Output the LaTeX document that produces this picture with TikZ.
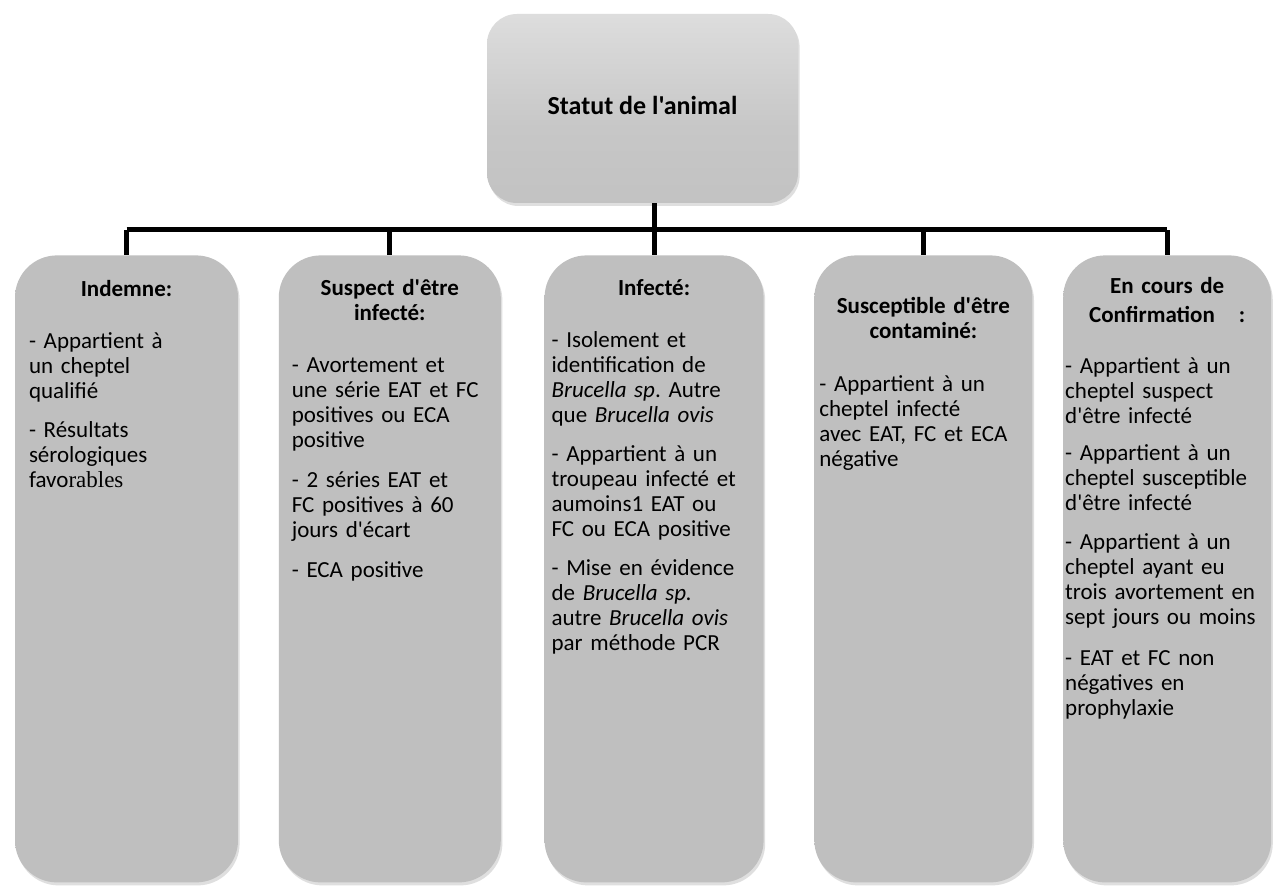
\documentclass[tikz,border=0pt]{standalone}
\usepackage{fontspec}
\setmainfont{Carlito}[Ligatures=TeXOff]
\newfontfamily\serifpart{Liberation Serif}
\usetikzlibrary{positioning,shadows}
\frenchspacing

\pgfdeclareverticalshading{colshade}{100bp}{color(0bp)=(gray!50); color(86bp)=(gray!50); color(100bp)=(gray!28)}
\pgfdeclareverticalshading{topshade}{100bp}{color(0bp)=(gray!52); color(45bp)=(gray!44); color(100bp)=(gray!12)}

\begin{document}
\begin{tikzpicture}[x=0.5pt,y=-0.5pt,
        link/.style={line width=2.5pt,black},
        col node/.style={anchor=north,rounded corners=21pt,minimum height=313.5pt,
            shade,shading=colshade,
            drop shadow={opacity=0.25,shadow xshift=0.8pt,shadow yshift=-1.5pt}},
        txt node/.style={anchor=north west,inner sep=0pt,align=left,
            font=\fontsize{11.5}{12.5}\selectfont,
            execute at begin node={\parindent=0pt}}]

        \path[use as bounding box,fill=white] (0,0) rectangle (1275,892);

        % Top of the tree
        \node[rounded corners=15pt,minimum width=155.5pt,minimum height=94.5pt,
              shade,shading=topshade,
              drop shadow={opacity=0.25,shadow xshift=0.8pt,shadow yshift=-1.5pt},
              font=\fontsize{13}{15}\selectfont\bfseries] (top) at (642.5,108.5) {\raisebox{3pt}{Statut de l'animal}};

        % The five columns
        \node[col node,minimum width=111.5pt] (ind) at (126.5,255) {};
        \node[col node,minimum width=111pt] (sus) [right=20pt of ind] {};
        \node[col node,minimum width=109.5pt] (inf) [right=21.5pt of sus] {};
        \node[col node,minimum width=109pt] (sce) [right=25pt of inf] {};
        \node[col node,minimum width=104pt] (enc) [right=15pt of sce] {};

        % Connectors
        \coordinate (bar) at (0,230);
        \foreach \b in {ind,sus,inf,sce,enc}
            \draw[link] (\b.north) -- (\b.north |- bar);
        \draw[link] (ind.north |- bar) -- (enc.north |- bar);
        \draw[link] (top.south -| inf.north) -- (inf.north |- bar);

        % Texts
        \node[txt node,text width=97.5pt] (ind-t) at ([xshift=7pt,yshift=-12.5pt]ind.north west) {%
            {\centering\bfseries Indemne:\par}\vspace{13.5pt}\raggedright
            - Appartient à\\ un cheptel\\ qualifié\par\vspace{7pt}
            - Résultats\\ sérologiques\\ favo{\serifpart rables}};
        \node[txt node,text width=98pt] (sus-t) at ([xshift=6.5pt,yshift=-12pt]sus.north west) {%
            {\centering\bfseries Suspect d'être\\ infecté:\par}\vspace{13.5pt}\raggedright
            - Avortement et\\ une série EAT et FC\\ positives ou ECA\\ positive\par\vspace{7.5pt}
            \makebox[84.5pt][s]{- 2 séries EAT et}\\ \makebox[84.5pt][s]{FC positives à 60}\\ jours d'écart\par\vspace{7.5pt}
            - ECA positive};
        \node[txt node,text width=102.5pt] (inf-t) at ([xshift=3.5pt,yshift=-12pt]inf.north west) {%
            {\centering\bfseries Infecté:\par}\vspace{13.5pt}\raggedright
            - Isolement et\\ identification de\\ \textit{Brucella sp}. Autre\\ que \textit{Brucella ovis}\par\vspace{7pt}
            - Appartient à un\\ troupeau infecté et\\ aumoins1 EAT ou\\ FC ou ECA positive\par\vspace{7pt}
            - Mise en évidence\\ de \textit{Brucella sp.}\\ autre \textit{Brucella ovis}\\ par méthode PCR};
        \node[txt node,text width=104pt] (sce-t) at ([xshift=2.5pt,yshift=-21pt]sce.north west) {%
            {\centering\bfseries Susceptible d'être\\ contaminé:\par}\vspace{14pt}\raggedright
            - Appartient à un\\ cheptel infecté\\ avec EAT, FC et ECA\\ négative};
        \node[txt node,text width=102pt] (enc-t) at ([xshift=1pt,yshift=-11pt]enc.north west) {%
            {\centering\bfseries En cours de\\[2pt] Confirmation\hspace{12pt}:\par}\vspace{13pt}\raggedright
            - Appartient à un\\ cheptel suspect\\ d'être infecté\par\vspace{6pt}
            - Appartient à un\\ cheptel susceptible\\ d'être infecté\par\vspace{7pt}
            - Appartient à un\\ cheptel ayant eu\\ trois avortement en\\ sept jours ou moins\par\vspace{8pt}
            - EAT et FC non\\ négatives en\\ prophylaxie};

\end{tikzpicture}
\end{document}
